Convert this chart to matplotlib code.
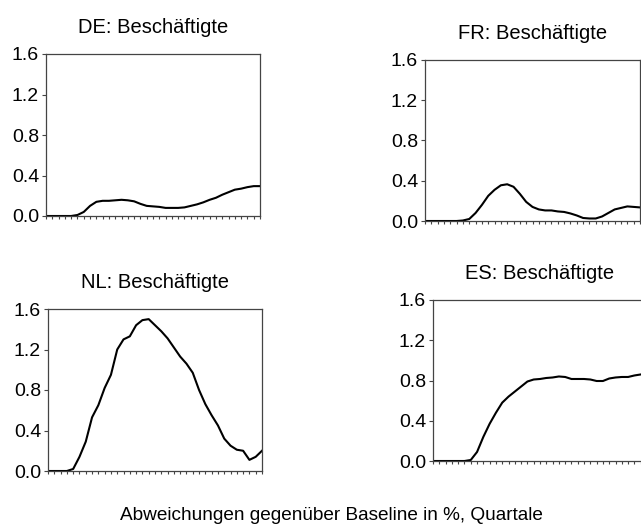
import numpy as np
import matplotlib
matplotlib.use('Agg')
import matplotlib.pyplot as plt

plt.rcParams['font.family'] = ['Liberation Sans', 'DejaVu Sans']

# quarters 0..34, deviation from baseline in %
quarters = np.arange(35)

de = [0, 0, 0, 0, 0, 0.01, 0.04, 0.10, 0.14, 0.15, 0.15, 0.155, 0.16, 0.155, 0.145,
      0.12, 0.10, 0.095, 0.09, 0.08, 0.08, 0.08, 0.085, 0.10, 0.115, 0.135, 0.16,
      0.18, 0.21, 0.235, 0.26, 0.27, 0.285, 0.295, 0.295]
fr = [0, 0, 0, 0, 0, 0, 0.005, 0.02, 0.08, 0.16, 0.25, 0.31, 0.355, 0.365, 0.34,
      0.27, 0.19, 0.14, 0.115, 0.105, 0.105, 0.095, 0.09, 0.075, 0.055, 0.03, 0.025,
      0.025, 0.045, 0.08, 0.115, 0.13, 0.145, 0.14, 0.135]
nl = [0, 0, 0, 0, 0.02, 0.14, 0.29, 0.53, 0.65, 0.82, 0.95, 1.2, 1.30, 1.33, 1.44,
      1.49, 1.50, 1.44, 1.38, 1.31, 1.22, 1.13, 1.06, 0.97, 0.80, 0.66, 0.55, 0.45,
      0.32, 0.25, 0.21, 0.20, 0.11, 0.14, 0.20]
es = [0, 0, 0, 0, 0, 0, 0.01, 0.09, 0.24, 0.37, 0.48, 0.58, 0.64, 0.69, 0.74, 0.79,
      0.81, 0.815, 0.825, 0.83, 0.84, 0.835, 0.815, 0.815, 0.815, 0.81, 0.795, 0.795,
      0.82, 0.83, 0.835, 0.835, 0.85, 0.86, 0.86]

titles = ['DE: Beschäftigte', 'FR: Beschäftigte', 'NL: Beschäftigte', 'ES: Beschäftigte']
series = [de, fr, nl, es]
yticks = [0.0, 0.4, 0.8, 1.2, 1.6]

W, H = 641, 532
# axes boxes in pixels: left, right, top, bottom
boxes = [(46, 260, 54, 216), (425, 640, 60, 221), (48, 262, 309, 471), (433, 647, 300, 461)]

fig = plt.figure(figsize=(W / 100, H / 100), dpi=100)
for (l, r, t, b), title, vals in zip(boxes, titles, series):
    ax = fig.add_axes([l / W, 1 - b / H, (r - l) / W, (b - t) / H])
    ax.plot(quarters, vals, color='black', lw=1.5)
    ax.set_xlim(0, 34)
    ax.set_ylim(0, 1.6)
    ax.set_yticks(yticks)
    ax.set_yticklabels(['%.1f' % v for v in yticks])
    ax.set_xticks(quarters)
    ax.set_xticklabels([])
    ax.tick_params(axis='x', direction='out', length=2.5, width=0.8, color='#444444')
    ax.tick_params(axis='y', direction='out', length=3, width=0.8, color='#444444',
                   labelsize=14, pad=2)
    for s in ax.spines.values():
        s.set_color('#444444')
        s.set_linewidth(0.9)
    ax.set_title(title, fontsize=14.5, pad=15)

fig.text(331 / W, 1 - 516 / H, 'Abweichungen gegenüber Baseline in %, Quartale',
         ha='center', va='center', fontsize=13.7)

fig.savefig('out.png', dpi=100)
